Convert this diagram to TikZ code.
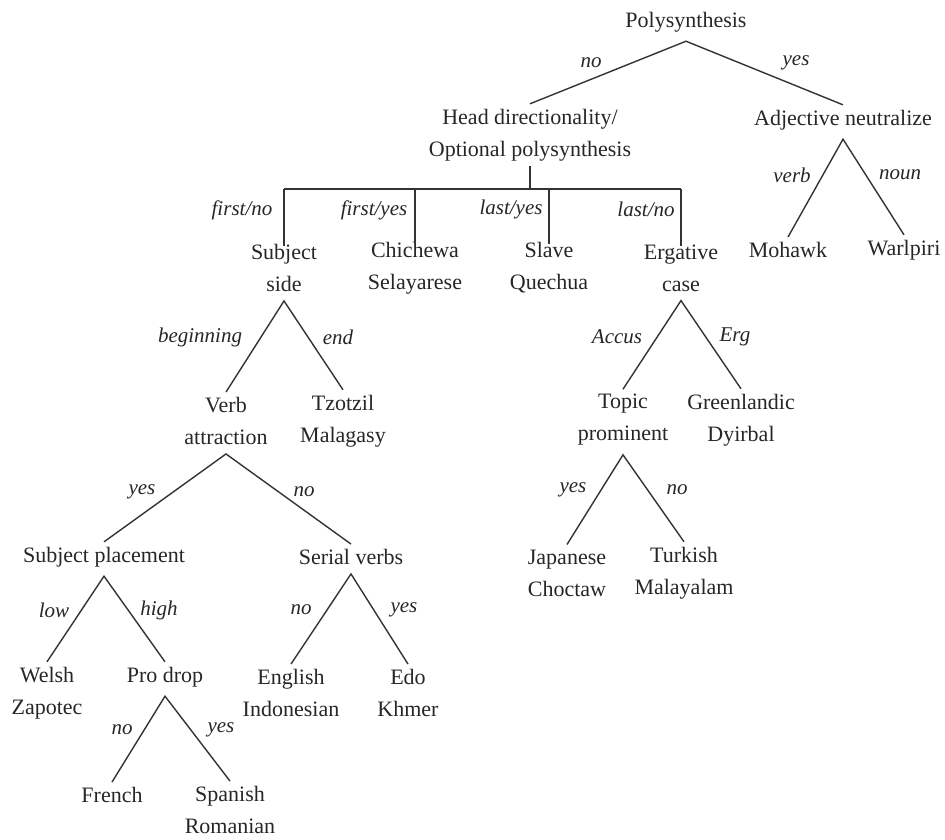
\documentclass[tikz,border=0pt]{standalone}
\usepackage{fontspec}
\setmainfont{Liberation Serif}
\begin{document}
\begin{tikzpicture}[x=1pt,y=-1pt,
  tn/.style={font=\fontsize{22}{32}\selectfont, align=center, inner sep=5pt, text=black!85},
  lb/.style={font=\fontsize{21}{24}\selectfont\itshape, inner sep=0pt, text=black!85},
  br/.style={line width=1.4pt, draw=black!80},
  drop/.style={br, shorten >=-7pt}]
\useasboundingbox (0,0) rectangle (945,839);

% decision nodes and leaves
\node[tn] (poly)      at (686,22)  {Polysynthesis};
\node[tn] (head)      at (530,135) {Head directionality/\\Optional polysynthesis};
\node[tn] (adj)       at (843,120) {Adjective neutralize};
\node[tn] (mohawk)    at (788,250) {Mohawk};
\node[tn] (warlpiri)  at (904,250) {Warlpiri};
\node[tn] (subjside)  at (284,268) {Subject\\side};
\node[tn] (chichewa)  at (415,268) {Chichewa\\Selayarese};
\node[tn] (slave)     at (549,268) {Slave\\Quechua};
\node[tn] (ergative)  at (681,268) {Ergative\\case};
\node[tn] (verbatt)   at (226,421) {Verb\\attraction};
\node[tn] (tzotzil)   at (343,421) {Tzotzil\\Malagasy};
\node[tn] (subjplace) at (104,557) {Subject placement};
\node[tn] (serial)    at (351,557) {Serial verbs};
\node[tn] (welsh)     at (47,693)  {Welsh\\Zapotec};
\node[tn] (prodrop)   at (165,677) {Pro drop};
\node[tn] (english)   at (291,693) {English\\Indonesian};
\node[tn] (edo)       at (408,693) {Edo\\Khmer};
\node[tn] (french)    at (112,795) {French};
\node[tn] (spanish)   at (230,810) {Spanish\\Romanian};
\node[tn] (topic)     at (623,420) {Topic\\prominent};
\node[tn] (greenl)    at (741,420) {Greenlandic\\Dyirbal};
\node[tn] (japanese)  at (567,573) {Japanese\\Choctaw};
\node[tn] (turkish)   at (684,573) {Turkish\\Malayalam};

% binary branches: both arms of a fork meet just under the parent
\foreach \p/\a/\b in {poly/head/adj, adj/mohawk/warlpiri,
    subjside/verbatt/tzotzil, verbatt/subjplace/serial,
    subjplace/welsh/prodrop, serial/english/edo,
    prodrop/french/spanish, ergative/topic/greenl,
    topic/japanese/turkish}{
  \draw[br] (\a.north) -- ([yshift=-4pt]\p.south) -- (\b.north);
}

% four-way bracket under the head directionality node
\coordinate (bar) at (283,189);
\draw[br] (head.south) -- (head.south |- bar);
\draw[br] (subjside.north |- bar) -- (ergative.north |- bar);
\foreach \n in {subjside,chichewa,slave,ergative}
  \draw[drop] (\n.north |- bar) -- (\n.north);

% branch labels
\node[lb] (l-no1)    at (591,63)  {no};
\node[lb] (l-yes1)   at (796,63)  {yes};
\node[lb] (l-verb)   at (792,175) {verb};
\node[lb] (l-noun)   at (900,175) {noun};
\node[lb] (l-fno)    at (242,210) {first/no};
\node[lb] (l-fyes)   at (374,210) {first/yes};
\node[lb] (l-lyes)   at (511,209) {last/yes};
\node[lb] (l-lno)    at (646,209) {last/no};
\node[lb] (l-beg)    at (200,337) {beginning};
\node[lb] (l-end)    at (338,337) {end};
\node[lb] (l-accus)  at (617,337) {Accus};
\node[lb] (l-erg)    at (735,337) {Erg};
\node[lb] (l-yes2)   at (142,492) {yes};
\node[lb] (l-no2)    at (304,492) {no};
\node[lb] (l-low)    at (54,610)  {low};
\node[lb] (l-high)   at (159,610) {high};
\node[lb] (l-no3)    at (301,610) {no};
\node[lb] (l-yes3)   at (404,610) {yes};
\node[lb] (l-no4)    at (122,730) {no};
\node[lb] (l-yes4)   at (221,730) {yes};
\node[lb] (l-yes5)   at (573,490) {yes};
\node[lb] (l-no5)    at (677,490) {no};
\end{tikzpicture}
\end{document}
